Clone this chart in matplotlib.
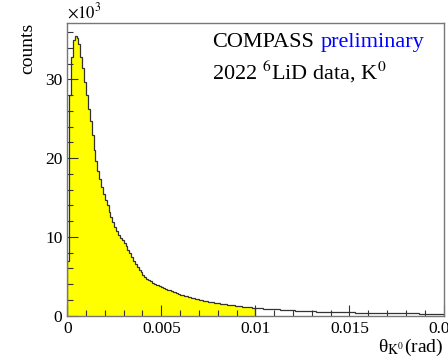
import numpy as np
import matplotlib.pyplot as plt
from matplotlib.transforms import offset_copy

plt.rcParams['font.family'] = ['Liberation Serif', 'DejaVu Serif']
plt.rcParams['mathtext.fontset'] = 'stix'

# bin edges: 200 bins of 0.0001 rad
theta_min = 0.0
theta_max = 0.02
n_bins = 200
fill_limit = 0.01

# counts per bin, in units of 10^3
counts = [
    6.9, 28.0, 32.8, 35.0, 35.5, 35.3, 34.5, 32.9, 31.4, 29.7,
    28.0, 26.3, 24.7, 22.9, 21.1, 19.6, 18.4, 17.3, 16.4, 15.5,
    14.7, 14.0, 13.2, 12.5, 11.9, 11.3, 10.8, 10.3, 9.9, 9.6,
    9.2, 8.8, 8.3, 7.9, 7.4, 7.0, 6.6, 6.2, 5.8, 5.5,
    5.2, 4.95, 4.7, 4.5, 4.35, 4.2, 4.05, 3.95, 3.85, 3.72,
    3.62, 3.52, 3.42, 3.32, 3.22, 3.13, 3.04, 2.95, 2.86, 2.77,
    2.68, 2.6, 2.53, 2.46, 2.39, 2.32, 2.26, 2.2, 2.14, 2.08,
    2.02, 1.96, 1.91, 1.87, 1.83, 1.79, 1.75, 1.71, 1.67, 1.63,
    1.58, 1.54, 1.5, 1.47, 1.44, 1.41, 1.38, 1.35, 1.32, 1.29,
    1.25, 1.22, 1.18, 1.15, 1.13, 1.1, 1.08, 1.05, 1.03, 1.0,
    0.98, 0.96, 0.95, 0.93, 0.91, 0.89, 0.88, 0.86, 0.85, 0.83,
    0.82, 0.8, 0.79, 0.78, 0.77, 0.75, 0.74, 0.72, 0.71, 0.69,
    0.68, 0.66, 0.65, 0.64, 0.62, 0.61, 0.6, 0.58, 0.57, 0.56,
    0.55, 0.54, 0.52, 0.51, 0.5, 0.5, 0.49, 0.48, 0.48, 0.47,
    0.47, 0.46, 0.46, 0.45, 0.45, 0.44, 0.44, 0.43, 0.43, 0.42,
    0.42, 0.41, 0.41, 0.4, 0.4, 0.39, 0.39, 0.38, 0.38, 0.37,
    0.37, 0.36, 0.36, 0.36, 0.35, 0.35, 0.35, 0.34, 0.34, 0.34,
    0.33, 0.33, 0.33, 0.32, 0.32, 0.32, 0.31, 0.31, 0.31, 0.3,
    0.3, 0.3, 0.3, 0.29, 0.29, 0.29, 0.29, 0.28, 0.28, 0.27,
    0.27, 0.26, 0.26, 0.25, 0.25, 0.24, 0.24, 0.23, 0.22, 0.22,
]

x_ticks = [0, 0.005, 0.01, 0.015, 0.02]
x_tick_labels = ['0', '0.005', '0.01', '0.015', '0.02']
y_ticks = [0, 10, 20, 30]

counts = np.array(counts)
edges = np.linspace(theta_min, theta_max, n_bins + 1)
n_fill = int(np.searchsorted(edges, fill_limit))

fig = plt.figure(figsize=(4.48, 3.6), dpi=100)
ax = fig.add_axes([0.150, 0.123, 0.840, 0.814])

# filled part up to 0.01, then the full outline
ax.stairs(counts[:n_fill], edges[:n_fill + 1], fill=True,
          facecolor='#ffff00', edgecolor='none')
ax.stairs(counts, edges, color='#333333', linewidth=0.9)
ax.vlines(edges[n_fill], 0, counts[n_fill - 1], color='#333333', linewidth=0.9)

ax.set_xlim(theta_min, theta_max)
ax.set_ylim(0, 37.2)
ax.set_xticks(x_ticks)
ax.set_xticklabels(x_tick_labels)
ax.set_yticks(y_ticks)
ax.set_xticks(np.arange(0, 0.0201, 0.001), minor=True)
ax.set_yticks(np.arange(0, 37, 2), minor=True)
ax.tick_params(which='both', direction='in', top=False, right=False,
               labelsize=12.5, colors='#333333', labelcolor='black')
ax.tick_params(which='major', length=8, width=0.8)
ax.tick_params(which='minor', length=4, width=0.8)
ax.tick_params(axis='x', pad=4)
for s in ax.spines.values():
    s.set_color('#777777')
    s.set_linewidth(1.0)

ax.set_xlabel(r'θ$_{\mathrm{K}^{0}}$(rad)', fontsize=14, loc='right', labelpad=0)
ax.set_ylabel('counts', fontsize=14, loc='top', labelpad=6)
ax.text(0.0, 1.003, r'$\times10^{3}$', transform=ax.transAxes,
        fontsize=12, ha='left', va='bottom')

t1 = ax.text(0.385, 0.966, 'COMPASS', transform=ax.transAxes, fontsize=16,
             ha='left', va='top', color='black')
fig.canvas.draw()
w = t1.get_window_extent().width * 72.0 / fig.dpi
ax.text(0.385, 0.966, 'preliminary', fontsize=16, ha='left', va='top',
        color='#0000ff',
        transform=offset_copy(ax.transAxes, fig=fig, x=w + 4.5, y=0, units='points'))
ax.text(0.385, 0.878, r'2022 $^{6}$LiD data, K$^{0}$', transform=ax.transAxes,
        fontsize=16, ha='left', va='top')

fig.savefig('out.png', dpi=100)
